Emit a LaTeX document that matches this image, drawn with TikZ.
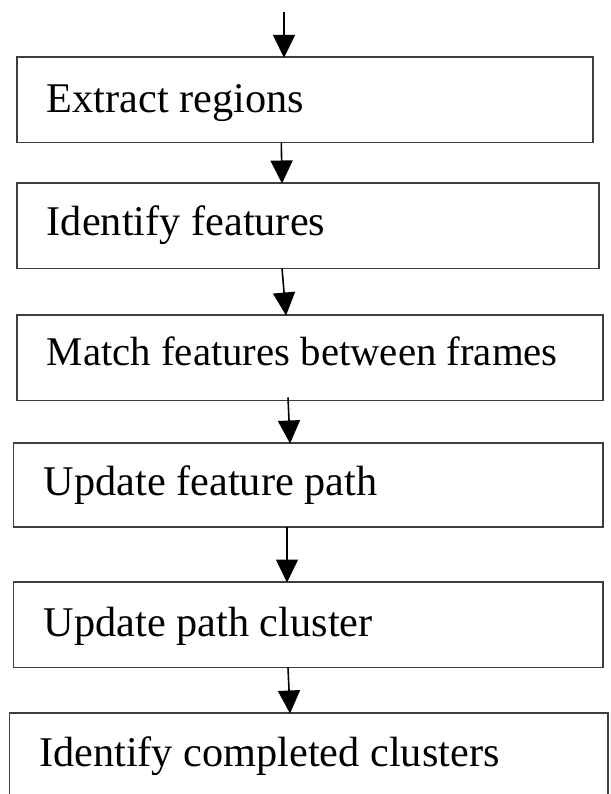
\documentclass[tikz,border=0pt]{standalone}
\usepackage{fontspec}
\setmainfont{Liberation Serif}
\usetikzlibrary{arrows.meta}
\definecolor{edgegray}{HTML}{3E3E3E}
\tikzset{
  stepbox/.style={draw=edgegray, line width=1.6pt, rectangle, inner sep=0pt, outer sep=0pt, anchor=north west},
  steptext/.style={anchor=base west, inner sep=0pt, font=\fontsize{42.3}{50}\selectfont},
  flow/.style={draw=black, line width=1.6pt, -{Triangle[length=23pt,width=22pt]}, shorten >=-0.5pt}
}
\begin{document}
\begin{tikzpicture}[x=1pt,y=-1pt]
  \useasboundingbox (0,0) rectangle (610,794);
  \clip (0,0) rectangle (610,794);
  \fill[white] (0,0) rectangle (610,794);

  % process boxes
  \node[stepbox, minimum width=576pt,   minimum height=85.4pt] (b1) at (16.7,57.3) {};
  \node[stepbox, minimum width=582.3pt, minimum height=85.5pt] (b2) at (16.7,183) {};
  \node[stepbox, minimum width=586.3pt, minimum height=85.5pt] (b3) at (16.7,315) {};
  \node[stepbox, minimum width=589.7pt, minimum height=84pt]   (b4) at (13.3,443) {};
  \node[stepbox, minimum width=589.7pt, minimum height=85.5pt] (b5) at (13.3,582) {};
  \node[stepbox, minimum width=598.7pt, minimum height=107pt]  (b6) at (9.3,713) {};

  % labels
  \node[steptext] (t1) at (46.7,112.5) {Extract regions};
  \node[steptext] (t2) at (46.7,235)   {Identify features};
  \node[steptext, font=\fontsize{40.8}{49}\selectfont] (t3) at (46.7,365.5) {Match features between frames};
  \node[steptext] (t4) at (43.6,495)   {Update feature path};
  \node[steptext] (t5) at (43.6,636.7) {Update path cluster};
  \node[steptext] (t6) at (38.9,766.7) {Identify completed clusters};

  % connectors
  \coordinate (entry) at (284,12);
  \draw[flow] (entry) -- (entry |- b1.north);
  \draw[flow] ([xshift=264.6pt]b1.south west) -- ([xshift=265.3pt]b2.north west);
  \draw[flow] ([xshift=265.3pt]b2.south west) -- ([xshift=269.3pt]b3.north west);
  \draw[flow] ([xshift=271.3pt,yshift=3pt]b3.south west) -- ([xshift=276.7pt]b4.north west);
  \draw[flow] ([xshift=273.7pt]b4.south west) -- ([xshift=273.7pt]b5.north west);
  \draw[flow] ([xshift=274.7pt]b5.south west) -- ([xshift=280.7pt]b6.north west);
\end{tikzpicture}
\end{document}
